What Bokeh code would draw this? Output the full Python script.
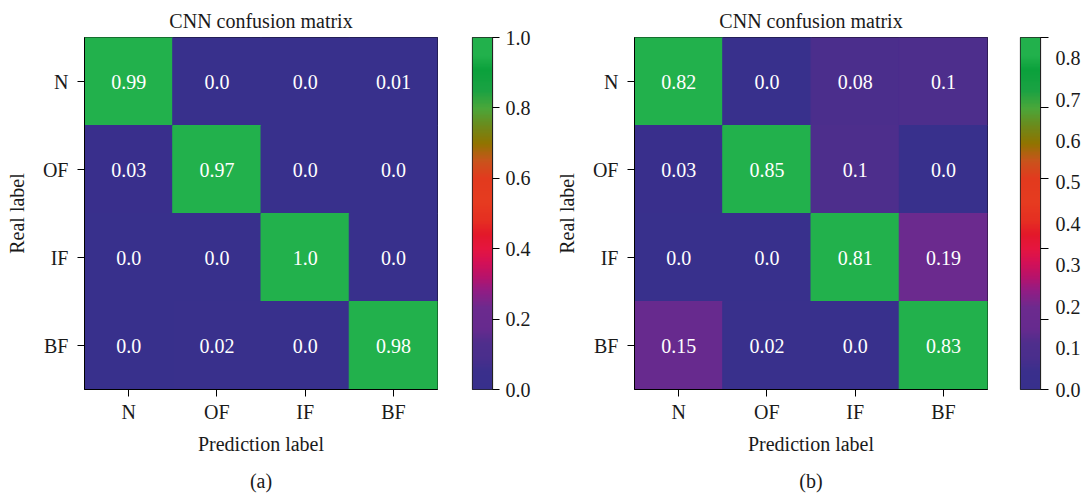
import numpy as np
from bokeh.plotting import figure
from bokeh.layouts import row
from bokeh.models import (ColumnDataSource, LinearColorMapper, LinearAxis, FixedTicker,
                          PrintfTickFormatter, CustomJSTickFormatter, Range1d, Title)
from bokeh.transform import linear_cmap
from bokeh.embed import file_html
from bokeh.resources import INLINE
from bokeh.core.properties import value

# ---------------- data ----------------
labels = ["N", "OF", "IF", "BF"]

cm_a = [
    [0.99, 0.0, 0.0, 0.01],
    [0.03, 0.97, 0.0, 0.0],
    [0.0, 0.0, 1.0, 0.0],
    [0.0, 0.02, 0.0, 0.98],
]
cm_b = [
    [0.82, 0.0, 0.08, 0.1],
    [0.03, 0.85, 0.1, 0.0],
    [0.0, 0.0, 0.81, 0.19],
    [0.15, 0.02, 0.0, 0.83],
]

title_text = "CNN confusion matrix"
x_title = "Prediction label"
y_title = "Real label"
captions = ["(a)", "(b)"]

cbar_a_high = 1.0
cbar_a_ticks = [0.0, 0.2, 0.4, 0.6, 0.8, 1.0]
cbar_b_high = 0.85
cbar_b_tick_marks = [0.0, 0.17, 0.34, 0.51, 0.68, 0.85]
cbar_b_label_values = [0.0, 0.1, 0.2, 0.3, 0.4, 0.5, 0.6, 0.7, 0.8]

# colormap stops (fraction, colour)
cmap_stops = [
    (0.00, "#38308c"), (0.05, "#3a2f8c"), (0.09, "#4a2e8c"), (0.13, "#4f2e8c"),
    (0.17, "#662a8e"), (0.23, "#6c2a8e"), (0.28, "#921d84"), (0.32, "#b8126a"),
    (0.36, "#d41056"), (0.40, "#e5153f"), (0.44, "#e3182a"), (0.48, "#e52f22"),
    (0.53, "#e63b20"), (0.60, "#e23a1e"), (0.65, "#c8541c"), (0.70, "#907400"),
    (0.75, "#6c8a1c"), (0.80, "#4aa73a"), (0.85, "#1ba243"), (0.91, "#0ba13c"),
    (0.95, "#22b14c"), (1.00, "#22b14c"),
]

FONT = "Liberation Serif"
TXT = "#1a1a1a"
H = 502
TOP = 37
BOTTOM = 112


def hex_to_rgb(h):
    h = h.lstrip("#")
    return np.array([int(h[i:i + 2], 16) for i in (0, 2, 4)], dtype=float)


def make_palette(stops, n=256):
    fr = np.array([s[0] for s in stops])
    cols = np.array([hex_to_rgb(s[1]) for s in stops])
    t = np.linspace(0, 1, n)
    out = []
    for v in t:
        rgb = [np.interp(v, fr, cols[:, k]) for k in range(3)]
        out.append("#%02x%02x%02x" % tuple(int(round(c)) for c in rgb))
    return out


palette = make_palette(cmap_stops)


def style_axis(ax, tick_out=7, standoff=8):
    ax.axis_line_color = "black"
    ax.axis_line_width = 1
    ax.major_tick_line_color = "black"
    ax.major_tick_out = tick_out
    ax.major_tick_in = 0
    ax.minor_tick_line_color = None
    ax.major_label_text_font = FONT
    ax.major_label_text_font_size = "20px"
    ax.major_label_text_color = TXT
    ax.major_label_standoff = standoff


def heatmap(cm, high, caption, left, right, width):
    p = figure(width=width, height=H, x_range=labels, y_range=labels[::-1],
               toolbar_location=None, output_backend="svg",
               min_border_left=left, min_border_right=right,
               min_border_top=TOP, min_border_bottom=BOTTOM,
               title=title_text)
    p.title.align = "center"
    p.title.text_font = FONT
    p.title.text_font_size = "20px"
    p.title.text_font_style = "normal"
    p.title.text_color = TXT
    p.title.standoff = 12

    xs, ys, vals, txt = [], [], [], []
    for i, real in enumerate(labels):
        for j, pred in enumerate(labels):
            xs.append(pred)
            ys.append(real)
            vals.append(cm[i][j])
            txt.append(str(cm[i][j]))
    src = ColumnDataSource(dict(pred=xs, real=ys, val=vals, txt=txt))
    cmap = linear_cmap("val", palette, 0, high)
    p.background_fill_color = palette[0]
    p.rect(x="pred", y="real", width=1, height=1, source=src,
           fill_color=cmap, line_color=cmap, line_width=1)
    p.text(x="pred", y="real", text="txt", source=src, text_align="center",
           text_baseline="middle", text_color="white",
           text_font=value(FONT), text_font_size="20px")

    p.grid.visible = False
    p.outline_line_color = "black"
    p.outline_line_width = 1

    style_axis(p.xaxis[0], 7, 4)
    style_axis(p.yaxis[0], 7, 9)
    p.xaxis.axis_label = x_title
    p.yaxis.axis_label = y_title
    for ax in (p.xaxis[0], p.yaxis[0]):
        ax.axis_label_text_font = FONT
        ax.axis_label_text_font_size = "20px"
        ax.axis_label_text_font_style = "normal"
        ax.axis_label_text_color = TXT
    p.xaxis.axis_label_standoff = 7
    p.yaxis.axis_label_standoff = 12

    cap = Title(text=caption, align="center", text_font=FONT, text_font_size="20px",
                text_font_style="normal", text_color=TXT, standoff=21)
    p.add_layout(cap, "below")
    return p


def colorbar_fig(high, left, right, width):
    p = figure(width=width, height=H, x_range=Range1d(0, 1), y_range=Range1d(0, high),
               x_axis_location=None, y_axis_location=None,
               toolbar_location=None, output_backend="svg",
               min_border_left=left, min_border_right=right,
               min_border_top=TOP, min_border_bottom=BOTTOM)
    grad = np.linspace(0, high, 512).reshape(-1, 1)
    p.image(image=[grad], x=0, y=0, dw=1, dh=high,
            color_mapper=LinearColorMapper(palette=palette, low=0, high=high))
    p.grid.visible = False
    p.outline_line_color = "#222222"
    p.outline_line_width = 1.2
    return p


# panel (a)
hm_a = heatmap(cm_a, cbar_a_high, captions[0], 84, 18, 455)
cb_a = colorbar_fig(cbar_a_high, 17, 53, 90)
ax_a = LinearAxis(ticker=FixedTicker(ticks=cbar_a_ticks),
                  formatter=PrintfTickFormatter(format="%.1f"))
style_axis(ax_a, 7, 6)
ax_a.axis_line_color = "#222222"
cb_a.add_layout(ax_a, "right")

# panel (b)
hm_b = heatmap(cm_b, cbar_b_high, captions[1], 89, 15, 457)
cb_b = colorbar_fig(cbar_b_high, 18, 46, 84)
ax_b1 = LinearAxis(ticker=FixedTicker(ticks=cbar_b_tick_marks),
                   formatter=CustomJSTickFormatter(code="return ''"))
style_axis(ax_b1, 8, 0)
ax_b1.axis_line_color = "#222222"
cb_b.add_layout(ax_b1, "right")
ax_b2 = LinearAxis(ticker=FixedTicker(ticks=cbar_b_label_values),
                   formatter=PrintfTickFormatter(format="%.1f"))
style_axis(ax_b2, 0, 7)
ax_b2.axis_line_color = None
ax_b2.major_tick_line_color = None
cb_b.add_layout(ax_b2, "right")

layout = row(hm_a, cb_a, hm_b, cb_b, spacing=0)

open("out.html", "w").write(file_html(layout, INLINE))
